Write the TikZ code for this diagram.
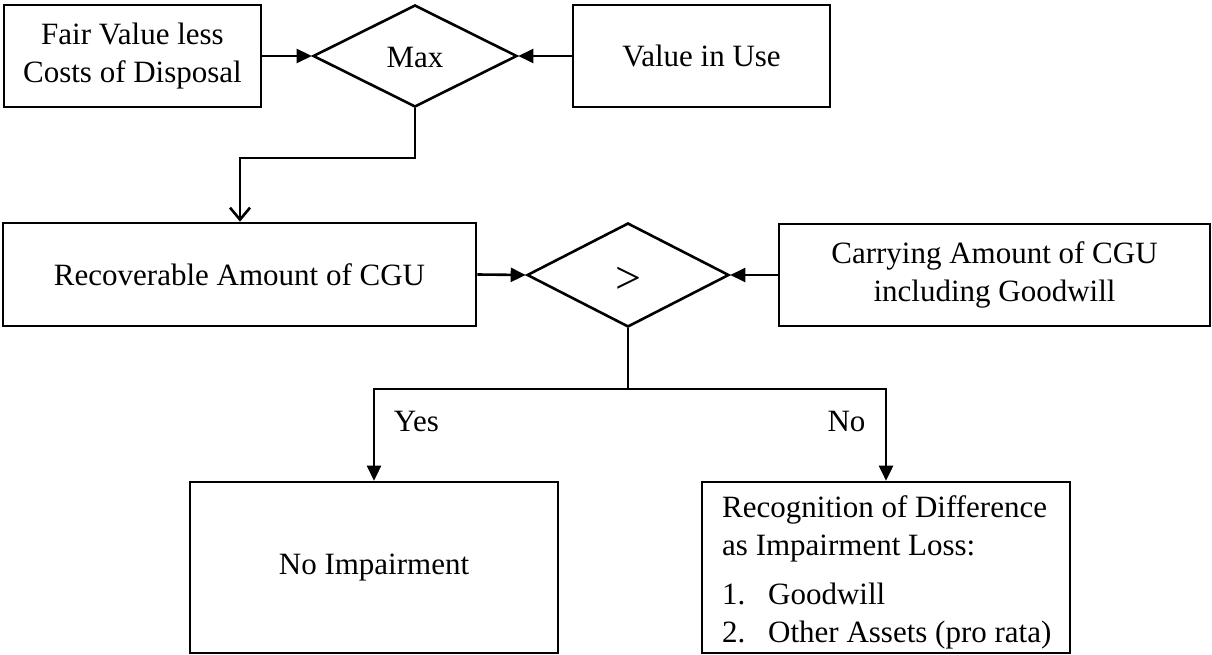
\documentclass[tikz,border=0pt]{standalone}
\usepackage{fontspec}
\setmainfont{Liberation Serif}
\usetikzlibrary{arrows.meta,shapes.geometric}

\begin{document}
\begin{tikzpicture}[x=1pt,y=-1pt,
  every node/.style={font=\fontsize{31}{38}\selectfont},
  box/.style={draw, line width=2.6pt, rectangle, inner sep=0pt, align=center},
  decision/.style={draw, line width=2.6pt, diamond, inner sep=0pt, aspect=2},
  conn/.style={line width=2.6pt},
  solidtip/.style={conn, -{Triangle[length=15pt,width=14pt]}},
  opentip/.style={conn, -{Straight Barb[length=12pt,width=20pt,line width=2.6pt]}},
  branchlabel/.style={inner sep=0pt}]

  % page frame
  \useasboundingbox (0,0) rectangle (1212,655);

  % top row: the two measures and their maximum
  \node[box, minimum width=257, minimum height=102] (fv) at (132.5,56)
       {Fair Value less\\Costs of Disposal};
  \node[box, minimum width=257, minimum height=102] (viu) at (701.5,56)
       {Value in Use};
  \node[decision, minimum width=204, minimum height=102] (max) at (415,56) {};
  \node[inner sep=0pt] (maxlabel) at (415,58) {Max};

  % middle row: comparison
  \node[box, minimum width=473, minimum height=103] (rec) at (239.5,274.5)
       {Recoverable Amount of CGU};
  \node[box, minimum width=431, minimum height=102] (carry) at (994.5,275)
       {Carrying Amount of CGU\\including Goodwill};
  \node[decision, minimum width=202, minimum height=104] (gt) at (628,275) {};
  \node[inner sep=0pt, font=\fontsize{46}{46}\selectfont] (gtlabel) at (628,280) {>};

  % bottom row: outcomes
  \node[box, minimum width=368, minimum height=171] (noimp) at (374,567.5)
       {No Impairment};
  \node[box, minimum width=368, minimum height=171] (loss) at (886,567.5) {};
  \node[inner sep=0pt, anchor=north west, align=left] (losstext) at (722,495)
       {Recognition of Difference\\as Impairment Loss:\\[11pt]
        \makebox[46pt][l]{1.}Goodwill\\
        \makebox[46pt][l]{2.}Other Assets (pro rata)};

  % branch labels
  \node[branchlabel] (yes) at (416.5,421) {Yes};
  \node[branchlabel] (no) at (846.5,421) {No};

  % helper points for the elbow connectors
  \coordinate (bend) at (240,158);
  \coordinate (split) at (628,389);

  % connectors
  \draw[solidtip] (fv.east) -- (max.west);
  \draw[solidtip] (viu.west) -- (max.east);
  \draw[opentip] (max.south) |- (bend) -- (bend |- rec.north);
  \draw[solidtip] (rec.east) -- (gt.west);
  \draw[solidtip] (carry.west) -- (gt.east);
  \draw[conn] (gt.south) -- (split);
  \draw[solidtip] (split) -| (noimp.north);
  \draw[solidtip] (split) -| (loss.north);
\end{tikzpicture}
\end{document}
